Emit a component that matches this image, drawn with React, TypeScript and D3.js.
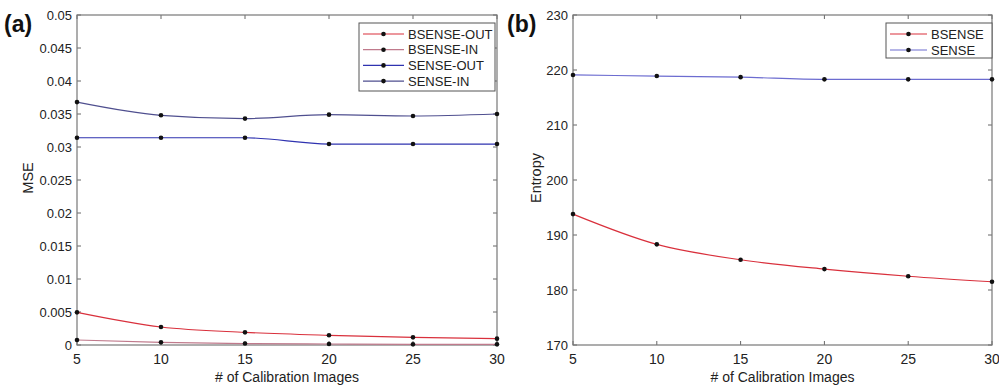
import React, { useEffect, useRef } from 'react';
import * as d3 from 'd3';

const calibImages = [5, 10, 15, 20, 25, 30];

// panel (a) - MSE
const bsenseOut = [0.00495, 0.00273, 0.00192, 0.00147, 0.00116, 0.00096];
const bsenseIn = [0.00076, 0.0004, 0.00022, 0.00015, 0.0001, 0.0001];
const senseOut = [0.0314, 0.0314, 0.0314, 0.03045, 0.03045, 0.03045];
const senseIn = [0.0368, 0.0348, 0.0343, 0.0349, 0.0347, 0.035];
const mseTicks = [0, 0.005, 0.01, 0.015, 0.02, 0.025, 0.03, 0.035, 0.04, 0.045, 0.05];

// panel (b) - Entropy
const bsenseEntropy = [193.8, 188.3, 185.5, 183.8, 182.5, 181.5];
const senseEntropy = [219.1, 218.9, 218.7, 218.3, 218.3, 218.3];
const entropyTicks = [170, 180, 190, 200, 210, 220, 230];

const mseSeries = [
    { name: 'BSENSE-OUT', values: bsenseOut, color: '#d9303c' },
    { name: 'BSENSE-IN', values: bsenseIn, color: '#c07a8c' },
    { name: 'SENSE-OUT', values: senseOut, color: '#2f33b0' },
    { name: 'SENSE-IN', values: senseIn, color: '#4f4f8f' },
];

const entropySeries = [
    { name: 'BSENSE', values: bsenseEntropy, color: '#d9303c' },
    { name: 'SENSE', values: senseEntropy, color: '#6c6cd0' },
];

const FONT = '"Liberation Sans", Arial, sans-serif';

function drawPanel(svg, opts) {
    const { left, right, top, bottom, yDomain, yTicks, yFormat, series, yLabel, yLabelX, panelLabel, panelX, legend } = opts;

    const x = d3.scaleLinear().domain([5, 30]).range([left, right]);
    const y = d3.scaleLinear().domain(yDomain).range([bottom, top]);
    const g = svg.append('g');

    // ticks (inward, on all four sides like matlab box on)
    const tickLen = 4;
    calibImages.forEach(v => {
        g.append('line').attr('x1', x(v)).attr('x2', x(v)).attr('y1', bottom).attr('y2', bottom - tickLen)
            .attr('stroke', '#666').attr('stroke-width', 1);
        g.append('line').attr('x1', x(v)).attr('x2', x(v)).attr('y1', top).attr('y2', top + tickLen)
            .attr('stroke', '#666').attr('stroke-width', 1);
        g.append('text').attr('x', x(v)).attr('y', bottom + 19).attr('text-anchor', 'middle')
            .style('font-family', FONT).style('font-size', '14px').attr('fill', '#222').text(v);
    });
    yTicks.forEach(v => {
        g.append('line').attr('x1', left).attr('x2', left + tickLen).attr('y1', y(v)).attr('y2', y(v))
            .attr('stroke', '#666').attr('stroke-width', 1);
        g.append('line').attr('x1', right).attr('x2', right - tickLen).attr('y1', y(v)).attr('y2', y(v))
            .attr('stroke', '#666').attr('stroke-width', 1);
        g.append('text').attr('x', left - 5).attr('y', y(v)).attr('dy', '0.35em').attr('text-anchor', 'end')
            .style('font-family', FONT).style('font-size', '13px').attr('fill', '#222').text(yFormat(v));
    });

    // box
    g.append('rect').attr('x', left).attr('y', top).attr('width', right - left).attr('height', bottom - top)
        .attr('fill', 'none').attr('stroke', '#777').attr('stroke-width', 1.2);

    // lines
    const line = d3.line()
        .curve(d3.curveMonotoneX)
        .x((d, i) => x(calibImages[i]))
        .y(d => y(d));

    series.forEach(s => {
        g.append('path').datum(s.values).attr('fill', 'none').attr('stroke', s.color)
            .attr('stroke-width', 1.2).attr('d', line);
    });
    series.forEach(s => {
        s.values.forEach((v, i) => {
            g.append('circle').attr('cx', x(calibImages[i])).attr('cy', y(v)).attr('r', 2.3).attr('fill', '#111');
        });
    });

    // axis labels
    g.append('text').attr('x', (left + right) / 2).attr('y', bottom + 37).attr('text-anchor', 'middle')
        .style('font-family', FONT).style('font-size', '14px').attr('fill', '#222').text('# of Calibration Images');
    g.append('text').attr('transform', `translate(${yLabelX},${(top + bottom) / 2 - 2}) rotate(-90)`)
        .attr('text-anchor', 'middle').style('font-family', FONT).style('font-size', '14.5px').attr('fill', '#222')
        .text(yLabel);

    g.append('text').attr('x', panelX).attr('y', 32).style('font-family', FONT).style('font-size', '23px')
        .style('font-weight', 'bold').attr('fill', '#111').text(panelLabel);

    // legend
    const lg = g.append('g');
    lg.append('rect').attr('x', legend.x).attr('y', legend.y).attr('width', legend.w).attr('height', legend.h)
        .attr('fill', '#fff').attr('stroke', '#555').attr('stroke-width', 1);
    series.forEach((s, i) => {
        const ly = legend.y + 11 + i * legend.step;
        lg.append('line').attr('x1', legend.x + 4).attr('x2', legend.x + 4 + legend.lineW).attr('y1', ly).attr('y2', ly)
            .attr('stroke', s.color).attr('stroke-width', 1.2);
        lg.append('circle').attr('cx', legend.x + 4 + legend.lineW / 2).attr('cy', ly).attr('r', 2.3).attr('fill', '#111');
        lg.append('text').attr('x', legend.x + legend.lineW + 8).attr('y', ly).attr('dy', '0.35em')
            .style('font-family', FONT).style('font-size', '13px').attr('fill', '#222').text(s.name);
    });
}

function App() {
    const ref = useRef(null);

    useEffect(() => {
        document.body.style.margin = '0';
        const svg = d3.select(ref.current);
        svg.selectAll('*').remove();

        drawPanel(svg, {
            left: 77, right: 497, top: 15, bottom: 345,
            yDomain: [0, 0.05], yTicks: mseTicks,
            yFormat: v => (v === 0 ? '0' : d3.format('')(+v.toFixed(3))),
            series: mseSeries, yLabel: 'MSE', yLabelX: 33,
            panelLabel: '(a)', panelX: 4,
            legend: { x: 359, y: 23, w: 136, h: 68, step: 15.7, lineW: 41 },
        });

        drawPanel(svg, {
            left: 573, right: 992, top: 15, bottom: 345,
            yDomain: [170, 230], yTicks: entropyTicks,
            yFormat: v => String(v),
            series: entropySeries, yLabel: 'Entropy', yLabelX: 541,
            panelLabel: '(b)', panelX: 507,
            legend: { x: 886, y: 23, w: 106, h: 35, step: 16, lineW: 37 },
        });
    }, []);

    return <svg ref={ref} width={999} height={387} style={{ display: 'block', background: '#fff' }} />;
}

export default App;
